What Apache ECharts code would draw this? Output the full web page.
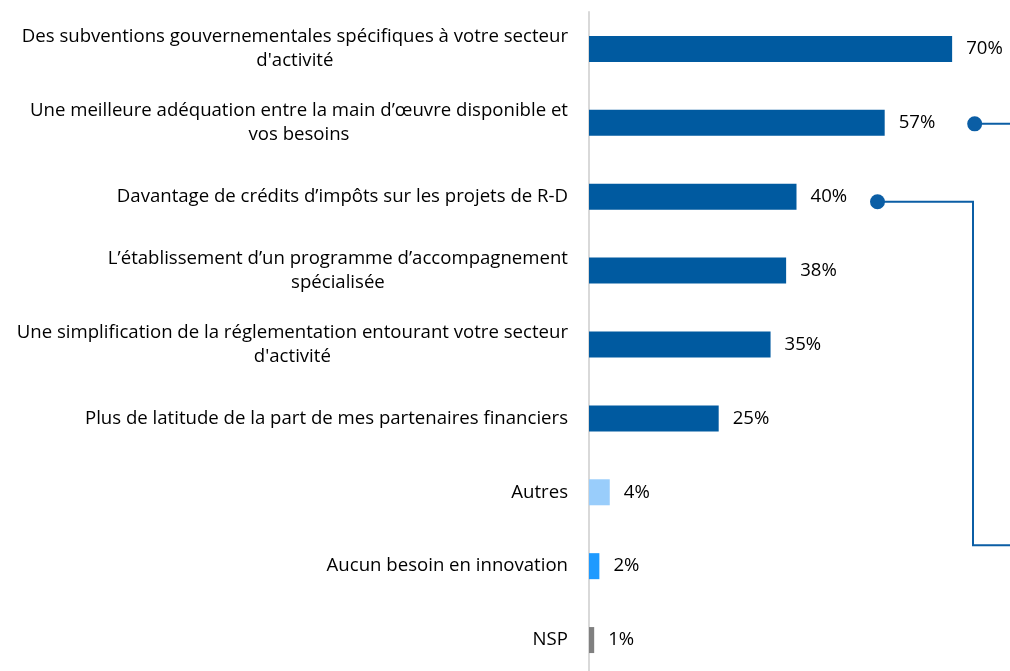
<!DOCTYPE html>
<html>
<head>
<meta charset="utf-8">
<script src="https://cdn.jsdelivr.net/npm/echarts@6/dist/echarts.min.js"></script>
<style>
  html, body { margin: 0; padding: 0; background: #ffffff; }
  #chart { width: 1010px; height: 671px; }
</style>
</head>
<body>
<div id="chart"></div>
<script>
// Survey answers (share of respondents, %)
const categories = [
  'Des subventions gouvernementales spécifiques à votre secteur\nd\'activité',
  'Une meilleure adéquation entre la main d’œuvre disponible et\nvos besoins',
  'Davantage de crédits d’impôts sur les projets de R-D',
  'L’établissement d’un programme d’accompagnement\nspécialisée',
  'Une simplification de la réglementation entourant votre secteur\nd\'activité',
  'Plus de latitude de la part de mes partenaires financiers',
  'Autres',
  'Aucun besoin en innovation',
  'NSP'
];
const values = [70, 57, 40, 38, 35, 25, 4, 2, 1];

// Bar fill per answer
const barColors = ['#005aa0', '#005aa0', '#005aa0', '#005aa0', '#005aa0', '#005aa0', '#99cdfb', '#1e9aff', '#808080'];

const FONT = '"Open Sans", "Noto Sans", "Liberation Sans", sans-serif';
const TEXT = '#000000';
const LINK = '#0b5ea5';
const FS = 18.6;

const chart = echarts.init(document.getElementById('chart'), null, { renderer: 'canvas' });

chart.setOption({
  animation: false,
  grid: { left: 589, top: 12, width: 415, height: 665, outerBoundsMode: 'none' },
  xAxis: { type: 'value', min: 0, max: 80, show: false },
  yAxis: {
    type: 'category',
    data: categories,
    inverse: true,
    axisLine: { show: true, lineStyle: { color: '#d9d9d9', width: 2 } },
    axisTick: { show: false },
    splitLine: { show: false },
    axisLabel: {
      margin: 21,
      align: 'right',
      color: TEXT,
      fontFamily: FONT,
      fontSize: FS,
      lineHeight: 24,
      // lines of a wrapped label are centred on each other, the block sits right-aligned
      formatter: v => '{c|' + v + '}',
      rich: { c: { align: 'center', color: TEXT, fontFamily: FONT, fontSize: FS, lineHeight: 24 } }
    }
  },
  series: [{
    type: 'bar',
    barWidth: 26,
    data: values.map((v, i) => ({ value: v, itemStyle: { color: barColors[i] } })),
    label: {
      show: true,
      position: 'right',
      distance: 14,
      formatter: '{c}%',
      color: TEXT,
      fontFamily: FONT,
      fontSize: FS
    }
  }]
});

// Connector callouts leading out of the right edge from two of the answers
const yAt = i => chart.convertToPixel({ gridIndex: 0 }, [0, i])[1];
const xAt = v => chart.convertToPixel({ gridIndex: 0 }, [v, 0])[0];
const W = chart.getWidth();

const d1y = yAt(1) + 1;
const d1x = xAt(values[1]) + 90;
const d2y = yAt(2) + 5;
const d2x = xAt(values[2]) + 81;
const elbowX = 973;
const lowY = yAt(7) - 21;

chart.setOption({
  graphic: [
    { type: 'polyline', shape: { points: [[d1x, d1y], [W, d1y]] }, style: { stroke: LINK, lineWidth: 2, fill: null }, z: 10 },
    { type: 'circle', shape: { cx: d1x, cy: d1y, r: 7.5 }, style: { fill: LINK }, z: 11 },
    { type: 'polyline', shape: { points: [[d2x, d2y], [elbowX, d2y], [elbowX, lowY], [W, lowY]] }, style: { stroke: LINK, lineWidth: 2, fill: null }, z: 10 },
    { type: 'circle', shape: { cx: d2x, cy: d2y, r: 7.5 }, style: { fill: LINK }, z: 11 }
  ]
});
</script>
</body>
</html>
